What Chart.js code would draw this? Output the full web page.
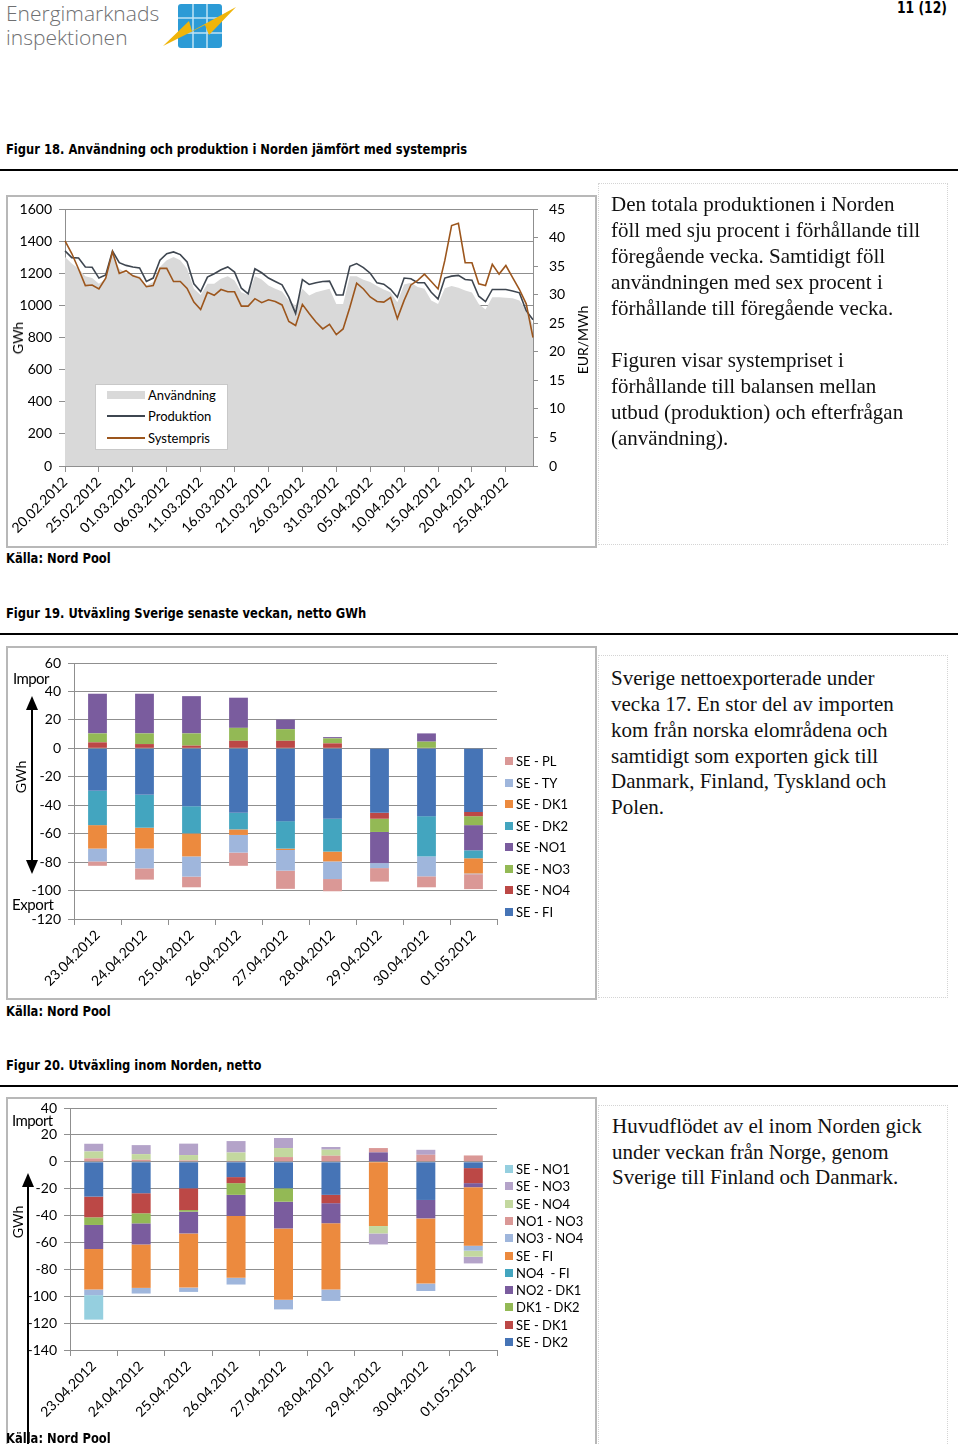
<!DOCTYPE html>
<html lang="sv">
<head>
<meta charset="UTF-8">
<title>Figur 18-20</title>
<script src="https://cdn.jsdelivr.net/npm/chart.js"></script>
<style>
body { margin: 0; background: #fff; }
#page { position: relative; width: 960px; height: 1444px; overflow: hidden; font-family: Lato, "Open Sans", sans-serif; color: #000; }
.abs { position: absolute; white-space: pre; }
.caption { position: absolute; white-space: nowrap; font-family: "Liberation Sans Narrow", "DejaVu Sans Condensed", Roboto, sans-serif; font-weight: bold; font-size: 14px; line-height: 16px; transform: scaleX(0.915); transform-origin: 0 0; }
.rule { position: absolute; left: 0; width: 958px; height: 2px; background: #000; }
.box { position: absolute; border: 2px solid #b8b8b8; box-sizing: border-box; }
.textbox { position: absolute; border: 1px dotted #d4d4d4; box-sizing: border-box; }
.serif { position: absolute; white-space: nowrap; font-family: "Liberation Serif", "DejaVu Serif", serif; font-size: 21px; line-height: 26px; color: #111; }
.rot { position: absolute; white-space: nowrap; font-size: 14px; line-height: 16px; transform: translate(-50%, -50%) rotate(-90deg); }
canvas { position: absolute; }
.leg { position: absolute; font-size: 13px; line-height: 16px; white-space: pre; }
.leg i { position: absolute; left: -11px; top: 4px; width: 8px; height: 8px; }
</style>
</head>
<body>
<div id="page">

  <!-- header -->
  <div class="abs" style="left:6px;top:1px;font-family:'Open Sans',sans-serif;font-weight:300;font-size:21px;line-height:24px;color:#6f7072;">Energimarknads
inspektionen</div>
  <svg class="abs" style="left:160px;top:2px" width="80" height="48">
    <rect x="18" y="2" width="44" height="44" rx="3" fill="#2c9bd6"/>
    <line x1="33" y1="2" x2="33" y2="46" stroke="#bfe3f5" stroke-width="1.5"/>
    <line x1="47" y1="2" x2="47" y2="46" stroke="#bfe3f5" stroke-width="1.5"/>
    <line x1="18" y1="16" x2="62" y2="16" stroke="#bfe3f5" stroke-width="1.5"/>
    <line x1="18" y1="31" x2="62" y2="31" stroke="#bfe3f5" stroke-width="1.5"/>
    <polygon points="3,44 29,19 32,29 76,5 49,33 45,23" fill="#f0b50a"/>
  </svg>
  <div class="caption" style="left:897px;top:0px;font-size:15px;">11 (12)</div>

  <!-- Figur 18 -->
  <div class="caption" style="left:6px;top:141px;">Figur 18. Användning och produktion i Norden jämfört med systempris</div>
  <div class="rule" style="top:169px;"></div>
  <div class="box" style="left:6px;top:195px;width:591px;height:353px;"></div>
  <canvas id="chart18" width="588" height="350" style="left:7px;top:197px;"></canvas>
  <div class="rot" style="left:18px;top:338px;">GWh</div>
  <div class="rot" style="left:583px;top:340px;">EUR/MWh</div>
  <div class="abs" style="left:95px;top:384px;width:133px;height:66px;border:1px solid #c8c8c8;background:#fff;box-sizing:border-box;"></div>
  <div class="abs" style="left:107px;top:391px;width:38px;height:8px;background:#d9d9d9;"></div>
  <div class="abs" style="left:107px;top:415px;width:38px;height:2px;background:#3e4650;"></div>
  <div class="abs" style="left:107px;top:437px;width:38px;height:2px;background:#9c561d;"></div>
  <div class="leg" style="left:148px;top:387px;">Användning</div>
  <div class="leg" style="left:148px;top:408px;">Produktion</div>
  <div class="leg" style="left:148px;top:430px;">Systempris</div>
  <div class="caption" style="left:6px;top:550px;">Källa: Nord Pool</div>

  <div class="textbox" style="left:598px;top:183px;width:350px;height:362px;"></div>
  <div class="serif" style="left:611px;top:191px;">Den totala produktionen i Norden</div>
  <div class="serif" style="left:611px;top:217px;">föll med sju procent i förhållande till</div>
  <div class="serif" style="left:611px;top:243px;">föregående vecka. Samtidigt föll</div>
  <div class="serif" style="left:611px;top:269px;">användningen med sex procent i</div>
  <div class="serif" style="left:611px;top:295px;">förhållande till föregående vecka.</div>
  <div class="serif" style="left:611px;top:347px;">Figuren visar systempriset i</div>
  <div class="serif" style="left:611px;top:373px;">förhållande till balansen mellan</div>
  <div class="serif" style="left:611px;top:399px;">utbud (produktion) och efterfrågan</div>
  <div class="serif" style="left:611px;top:425px;">(användning).</div>

  <!-- Figur 19 -->
  <div class="caption" style="left:6px;top:605px;">Figur 19. Utväxling Sverige senaste veckan, netto GWh</div>
  <div class="rule" style="top:633px;"></div>
  <div class="box" style="left:6px;top:646px;width:591px;height:354px;"></div>
  <canvas id="chart19" width="588" height="350" style="left:7px;top:648px;"></canvas>
  <div class="abs" style="left:13px;top:669px;font-size:15px;line-height:18px;letter-spacing:-0.6px;">Impor</div>
  <div class="abs" style="left:12px;top:895px;font-size:15px;line-height:18px;letter-spacing:-0.4px;">Export</div>
  <div class="rot" style="left:21px;top:777px;">GWh</div>
  <svg class="abs" style="left:24px;top:694px" width="16" height="182">
    <line x1="8" y1="10" x2="8" y2="170" stroke="#000" stroke-width="2"/>
    <polygon points="8,2 2,16 14,16" fill="#000"/>
    <polygon points="8,180 2,166 14,166" fill="#000"/>
  </svg>
  <div id="legend19"></div>
  <div class="caption" style="left:6px;top:1003px;">Källa: Nord Pool</div>

  <div class="textbox" style="left:598px;top:655px;width:350px;height:343px;"></div>
  <div class="serif" style="left:611px;top:665px;">Sverige nettoexporterade under</div>
  <div class="serif" style="left:611px;top:691px;">vecka 17. En stor del av importen</div>
  <div class="serif" style="left:611px;top:717px;">kom från norska elområdena och</div>
  <div class="serif" style="left:611px;top:743px;">samtidigt som exporten gick till</div>
  <div class="serif" style="left:611px;top:768px;">Danmark, Finland, Tyskland och</div>
  <div class="serif" style="left:611px;top:794px;">Polen.</div>

  <!-- Figur 20 -->
  <div class="caption" style="left:6px;top:1057px;">Figur 20. Utväxling inom Norden, netto</div>
  <div class="rule" style="top:1085px;"></div>
  <div class="box" style="left:6px;top:1097px;width:591px;height:370px;"></div>
  <canvas id="chart20" width="588" height="346" style="left:7px;top:1098px;"></canvas>
  <div class="abs" style="left:12px;top:1111px;font-size:15px;line-height:18px;letter-spacing:-0.6px;">Import</div>
  <div class="rot" style="left:18px;top:1222px;">GWh</div>
  <svg class="abs" style="left:20px;top:1171px" width="16" height="273">
    <line x1="8" y1="10" x2="8" y2="273" stroke="#000" stroke-width="2"/>
    <polygon points="8,2 2,16 14,16" fill="#000"/>
  </svg>
  <div id="legend20"></div>
  <div class="caption" style="left:6px;top:1430px;">Källa: Nord Pool</div>

  <div class="textbox" style="left:598px;top:1105px;width:350px;height:345px;"></div>
  <div class="serif" style="left:612px;top:1113px;">Huvudflödet av el inom Norden gick</div>
  <div class="serif" style="left:612px;top:1139px;">under veckan från Norge, genom</div>
  <div class="serif" style="left:612px;top:1164px;">Sverige till Finland och Danmark.</div>
</div>

<script>
// ---- Figur 18: daily data 20.02.2012 - 29.04.2012 ----
const days = [
  "20.02.2012","21.02.2012","22.02.2012","23.02.2012","24.02.2012","25.02.2012","26.02.2012","27.02.2012","28.02.2012","29.02.2012",
  "01.03.2012","02.03.2012","03.03.2012","04.03.2012","05.03.2012","06.03.2012","07.03.2012","08.03.2012","09.03.2012","10.03.2012",
  "11.03.2012","12.03.2012","13.03.2012","14.03.2012","15.03.2012","16.03.2012","17.03.2012","18.03.2012","19.03.2012","20.03.2012",
  "21.03.2012","22.03.2012","23.03.2012","24.03.2012","25.03.2012","26.03.2012","27.03.2012","28.03.2012","29.03.2012","30.03.2012",
  "31.03.2012","01.04.2012","02.04.2012","03.04.2012","04.04.2012","05.04.2012","06.04.2012","07.04.2012","08.04.2012","09.04.2012",
  "10.04.2012","11.04.2012","12.04.2012","13.04.2012","14.04.2012","15.04.2012","16.04.2012","17.04.2012","18.04.2012","19.04.2012",
  "20.04.2012","21.04.2012","22.04.2012","23.04.2012","24.04.2012","25.04.2012","26.04.2012","27.04.2012","28.04.2012","29.04.2012"
];
// GWh
const anvandning = [
  1301, 1260, 1228, 1182, 1170, 1134, 1166, 1320, 1228, 1203,
  1191, 1182, 1124, 1145, 1239, 1281, 1301, 1281, 1228, 1103,
  1065, 1134, 1134, 1166, 1182, 1155, 1082, 1065, 1182, 1161,
  1124, 1103, 1086, 1030, 1000, 1103, 1061, 1082, 1093, 1103,
  1009, 1009, 1182, 1182, 1160, 1145, 1120, 1099, 1082, 1019,
  1130, 1141, 1115, 1103, 1030, 1009, 1107, 1120, 1110, 1093,
  1080, 1009, 975, 1051, 1051, 1048, 1044, 1030, 975, 880
];
const produktion = [
  1339, 1297, 1295, 1239, 1237, 1170, 1190, 1338, 1266, 1249,
  1239, 1233, 1149, 1170, 1281, 1322, 1333, 1316, 1270, 1134,
  1086, 1176, 1197, 1222, 1239, 1207, 1107, 1072, 1228, 1203,
  1170, 1149, 1128, 1051, 950, 1161, 1130, 1141, 1149, 1151,
  1065, 1065, 1243, 1260, 1235, 1200, 1140, 1132, 1100, 1051,
  1170, 1166, 1141, 1141, 1082, 1040, 1170, 1182, 1187, 1161,
  1157, 1057, 1024, 1099, 1099, 1099, 1090, 1078, 967, 911
];
// EUR/MWh
const systempris = [
  39.4, 37.2, 34.5, 31.6, 31.7, 31.0, 32.9, 37.5, 33.7, 34.2,
  33.3, 32.9, 31.4, 31.6, 34.6, 34.6, 32.3, 32.3, 31.1, 28.7,
  27.4, 30.4, 29.9, 30.9, 30.5, 30.5, 28.0, 28.0, 29.3, 28.6,
  29.1, 28.8, 28.2, 25.3, 24.6, 28.3, 26.7, 25.2, 24.0, 24.8,
  23.0, 24.0, 27.8, 32.0, 31.0, 29.6, 28.8, 28.7, 29.5, 25.8,
  29.0, 31.7, 32.5, 33.6, 32.3, 31.0, 36.0, 42.1, 42.5, 35.6,
  35.6, 31.9, 31.6, 35.3, 33.6, 35.1, 33.0, 30.9, 28.4, 22.5
];

// ---- Figur 19: Sverige, netto GWh ----
const veckodagar = ["23.04.2012","24.04.2012","25.04.2012","26.04.2012","27.04.2012","28.04.2012","29.04.2012","30.04.2012","01.05.2012"];
const se_fi  = [-29.8, -32.6, -40.7, -45.3, -51.2, -49.5, -45.3, -47.7, -44.7];
const se_no4 = [4.2, 3.0, 1.9, 5.3, 5.3, 3.5, -4.2, 0, -3.0];
const se_no3 = [6.3, 7.5, 8.6, 9.1, 8.2, 3.5, -9.3, 4.7, -6.3];
const se_no1 = [27.9, 27.9, 26.2, 21.2, 6.7, 0.9, -21.9, 5.8, -17.7];
const se_dk2 = [-24.2, -23.2, -19.1, -11.7, -19.3, -23.1, 0, -28.3, -5.6];
const se_dk1 = [-16.5, -14.7, -16.2, -3.9, -1.0, -6.9, 0, 0, -10.7];
const se_ty  = [-9.0, -13.9, -14.2, -12.4, -14.5, -12.4, -3.5, -14.0, -0.5];
const se_pl  = [-3.1, -7.9, -7.5, -9.3, -12.8, -8.6, -9.5, -7.7, -10.5];

// ---- Figur 20: inom Norden, netto GWh ----
const n_se_dk2  = [-25.9, -23.4, -19.7, -11.4, -19.7, -24.6, 0, -28.4, -4.7];
const n_se_dk1  = [-15.4, -14.9, -16.2, -4.5, 0, -6.2, 0, 0, -11.2];
const n_dk1_dk2 = [-5.7, -7.5, -1.2, -8.7, -10.0, 0, 0, 0, 0];
const n_no2_dk1 = [-17.9, -15.7, -16.2, -15.7, -19.9, -14.9, 7.0, -13.7, -3.0];
const n_no4_fi  = [0, 0, 0, 0, 0, 0, 0, 0, 0];
const n_se_fi   = [-30.1, -32.3, -40.3, -46.0, -53.0, -49.3, -47.8, -48.5, -43.5];
const n_no3_no4 = [-4.2, -4.2, -3.2, -5.0, -7.2, -8.5, 0, -5.5, -3.7];
const n_no1_no3 = [2.5, 1.5, 1.0, 0.7, 3.5, 4.5, 3.2, 5.2, 4.7];
const n_se_no4  = [5.2, 4.2, 4.0, 6.2, 6.7, 4.5, -5.5, 0, -4.5];
const n_se_no3  = [5.7, 6.7, 8.5, 8.5, 7.5, 2.0, -8.2, 3.7, -5.0];
const n_se_no1  = [-18.2, 0, 0, 0, 0, 0, 0, 0, 0];

Chart.defaults.font.family = "Lato, 'Open Sans', sans-serif";
Chart.defaults.font.size = 14;
Chart.defaults.color = "#000";

const gridGrey = "#8f8f8f";

// fixed axis sizes, and no extra padding from the tick labels
function fixWidth(w) {
  return s => { s.width = w; s.paddingTop = 0; s.paddingBottom = 0; };
}
function fixHeight(h) {
  return s => { s.height = h; s.paddingLeft = 0; s.paddingRight = 0; };
}

new Chart(document.getElementById("chart18"), {
  type: "line",
  data: {
    labels: days,
    datasets: [
      { label: "Systempris", data: systempris, yAxisID: "y1", borderColor: "#9c561d", borderWidth: 1.6, pointRadius: 0, tension: 0, order: 1 },
      { label: "Produktion", data: produktion, yAxisID: "y", borderColor: "#3e4650", borderWidth: 1.6, pointRadius: 0, tension: 0, order: 2 },
      { label: "Användning", data: anvandning, yAxisID: "y", fill: "origin", backgroundColor: "#d9d9d9", borderWidth: 0, pointRadius: 0, tension: 0, order: 3 }
    ]
  },
  options: {
    responsive: false,
    animation: false,
    layout: { padding: { top: 12, left: 0, right: 0, bottom: 0 } },
    plugins: { legend: { display: false }, tooltip: { enabled: false } },
    scales: {
      x: {
        offset: false,
        grid: { drawOnChartArea: false, tickLength: 6, color: c => (c.index % 5 === 0 ? gridGrey : "rgba(0,0,0,0)") },
        border: { color: gridGrey },
        ticks: { autoSkip: false, maxRotation: 45, minRotation: 45, padding: 2, callback: (v, i) => (i % 5 === 0 ? days[i] : "") },
        afterFit: fixHeight(81)
      },
      y: {
        min: 0, max: 1600,
        ticks: { stepSize: 200, padding: 7, callback: v => String(v) },
        grid: { color: gridGrey, tickLength: 6 },
        border: { color: gridGrey },
        afterFit: fixWidth(58)
      },
      y1: {
        position: "right",
        min: 0, max: 45,
        ticks: { stepSize: 5, padding: 11 },
        grid: { drawOnChartArea: false, color: gridGrey, tickLength: 5 },
        border: { color: gridGrey },
        afterFit: fixWidth(62)
      }
    }
  }
});

function stackedChart(id, series, yMin, yMax, topPad, xHeight, yWidth) {
  return new Chart(document.getElementById(id), {
    type: "bar",
    data: {
      labels: veckodagar,
      datasets: series.map(s => ({
        label: s.label, data: s.data, backgroundColor: s.color,
        stack: "net", categoryPercentage: 1.0, barPercentage: 0.4, borderWidth: 0
      }))
    },
    options: {
      responsive: false,
      animation: false,
      layout: { padding: { top: topPad, left: 0, right: 98, bottom: 0 } },
      plugins: { legend: { display: false }, tooltip: { enabled: false } },
      scales: {
        x: {
          stacked: true,
          grid: { drawOnChartArea: false, tickLength: 6, color: gridGrey, offset: true },
          border: { color: gridGrey },
          ticks: { autoSkip: false, maxRotation: 45, minRotation: 45, padding: 2 },
          afterFit: fixHeight(xHeight)
        },
        y: {
          stacked: true,
          min: yMin, max: yMax,
          ticks: { stepSize: 20, padding: 7 },
          grid: { color: gridGrey, tickLength: 6 },
          border: { color: gridGrey },
          afterFit: fixWidth(yWidth)
        }
      }
    }
  });
}

function htmlLegend(id, series, firstY, step) {
  const box = document.getElementById(id);
  series.slice().reverse().forEach((s, k) => {
    const d = document.createElement("div");
    d.className = "leg";
    d.style.left = "516px";
    d.style.top = (firstY + k * step - 8) + "px";
    d.textContent = s.label;
    const sw = document.createElement("i");
    sw.style.background = s.color;
    d.appendChild(sw);
    box.appendChild(d);
  });
}

const series19 = [
  { label: "SE - FI",  data: se_fi,  color: "#4674b6" },
  { label: "SE - NO4", data: se_no4, color: "#bc4846" },
  { label: "SE - NO3", data: se_no3, color: "#93b955" },
  { label: "SE -NO1",  data: se_no1, color: "#7a5c9e" },
  { label: "SE - DK2", data: se_dk2, color: "#43a5bf" },
  { label: "SE - DK1", data: se_dk1, color: "#ec8a3e" },
  { label: "SE - TY",  data: se_ty,  color: "#9fb6dc" },
  { label: "SE - PL",  data: se_pl,  color: "#da9896" }
];
stackedChart("chart19", series19, -120, 60, 15, 79, 67);
htmlLegend("legend19", series19, 761, 21.57);

const series20 = [
  { label: "SE - DK2",  data: n_se_dk2,  color: "#4674b6" },
  { label: "SE - DK1",  data: n_se_dk1,  color: "#bc4846" },
  { label: "DK1 - DK2", data: n_dk1_dk2, color: "#93b955" },
  { label: "NO2 - DK1", data: n_no2_dk1, color: "#7a5c9e" },
  { label: "NO4  - FI", data: n_no4_fi,  color: "#43a5bf" },
  { label: "SE - FI",   data: n_se_fi,   color: "#ec8a3e" },
  { label: "NO3 - NO4", data: n_no3_no4, color: "#9fb6dc" },
  { label: "NO1 - NO3", data: n_no1_no3, color: "#da9896" },
  { label: "SE - NO4",  data: n_se_no4,  color: "#c3d89f" },
  { label: "SE - NO3",  data: n_se_no3,  color: "#b4a3c9" },
  { label: "SE - NO1",  data: n_se_no1,  color: "#95cfdf" }
];
stackedChart("chart20", series20, -140, 40, 10, 94, 63);
htmlLegend("legend20", series20, 1169, 17.3);
</script>
</body>
</html>
